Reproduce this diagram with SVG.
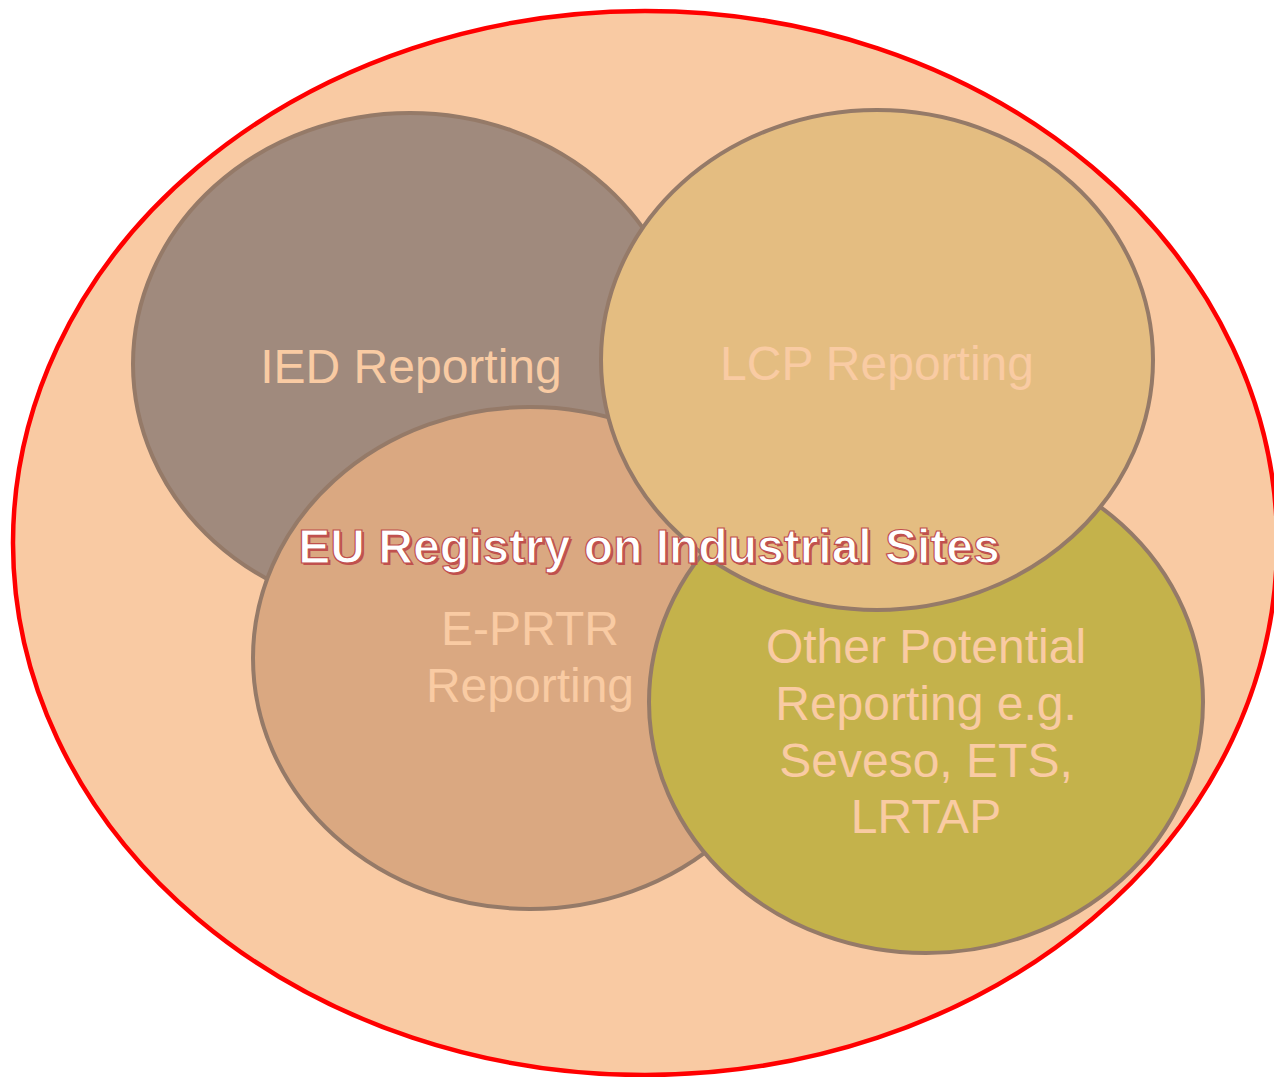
<svg xmlns="http://www.w3.org/2000/svg" width="1274" height="1077" viewBox="0 0 1274 1077">
<style>
.c{stroke:#957A68;stroke-width:4}
.t{font-family:"Liberation Sans",Arial,sans-serif;font-size:48px;fill:#F9CBA3;text-anchor:middle}
.title{font-family:"Liberation Sans",Arial,sans-serif;font-size:48px;font-weight:bold;text-anchor:middle}
</style>
<rect width="1274" height="1077" fill="#FFFFFF"/>
<g id="registry">
<ellipse cx="645" cy="543" rx="632" ry="532" fill="#F9CAA3" stroke="#FF0000" stroke-width="4.5"/>
</g>
<g id="connectors"></g>
<g id="ied">
<ellipse class="c" cx="410" cy="364" rx="277" ry="251" fill="#A08A7D"/>
<text class="t" x="411" y="383">IED Reporting</text>
</g>
<g id="eprtr">
<ellipse class="c" cx="530" cy="658" rx="277" ry="251" fill="#DAA881"/>
<text class="t" x="530" y="645">E-PRTR</text>
<text class="t" x="530" y="702">Reporting</text>
</g>
<g id="other">
<ellipse class="c" cx="926" cy="702" rx="277" ry="251" fill="#C4B24B"/>
<text class="t" x="926" y="663">Other Potential</text>
<text class="t" x="926" y="720">Reporting e.g.</text>
<text class="t" x="926" y="777">Seveso, ETS,</text>
<text class="t" x="926" y="833">LRTAP</text>
</g>
<g id="lcp">
<ellipse class="c" cx="877" cy="360" rx="276" ry="250" fill="#E4BD81"/>
<text class="t" x="877" y="380">LCP Reporting</text>
</g>
<g id="title">
<text class="title" x="651" y="565" fill="#C0504D">EU Registry on Industrial Sites</text>
<text class="title" x="649" y="563" fill="#FFFFFF" stroke="#C0504D" stroke-width="1.2">EU Registry on Industrial Sites</text>
</g>
</svg>
